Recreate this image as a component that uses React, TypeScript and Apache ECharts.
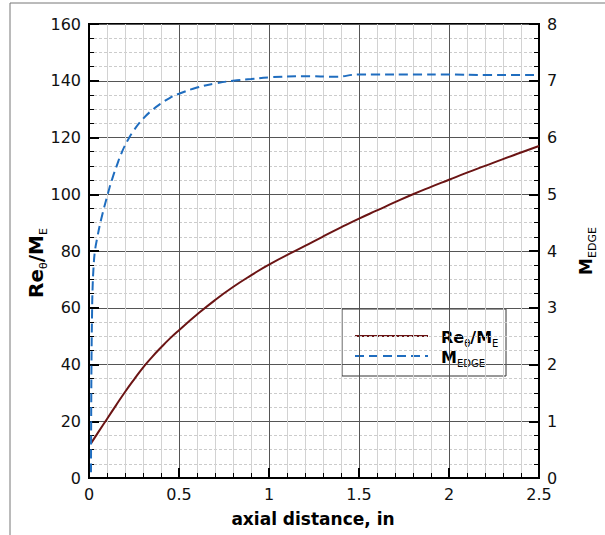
import React, { useEffect, useRef } from "react";
import * as echarts from "echarts";

const xTicks = { min: 0, max: 2.5, interval: 0.5 };
const leftTicks = { min: 0, max: 160, interval: 20 };
const rightTicks = { min: 0, max: 8, interval: 1 };

const reX = [0.011, 0.05, 0.1, 0.15, 0.2, 0.25, 0.3, 0.35, 0.4, 0.45, 0.5, 0.6, 0.7, 0.8, 0.9, 1.0, 1.2, 1.3, 1.4, 1.5, 1.6, 1.7, 1.8, 1.9, 2.0, 2.1, 2.2, 2.3, 2.4, 2.5];
const reY = [12.2, 16.0, 20.8, 25.6, 30.3, 34.7, 38.9, 42.6, 46.0, 49.2, 52.1, 57.6, 62.7, 67.3, 71.4, 75.2, 81.8, 85.1, 88.3, 91.4, 94.3, 97.2, 100.0, 102.6, 105.1, 107.6, 110.0, 112.4, 114.7, 117.0];

const mX = [0.011, 0.012, 0.014, 0.017, 0.02, 0.026, 0.033, 0.045, 0.067, 0.104, 0.13, 0.154, 0.18, 0.215, 0.25, 0.3, 0.35, 0.4, 0.45, 0.5, 0.6, 0.7, 0.8, 0.9, 1.0, 1.2, 1.37, 1.5, 1.6, 1.8, 2.0, 2.2, 2.5];
const mY = [0.1, 1.0, 2.1, 2.9, 3.35, 3.75, 4.0, 4.22, 4.55, 5.0, 5.28, 5.5, 5.72, 5.95, 6.13, 6.33, 6.48, 6.6, 6.7, 6.77, 6.88, 6.95, 7.0, 7.03, 7.06, 7.08, 7.07, 7.11, 7.11, 7.11, 7.11, 7.1, 7.1];

const RED = "#6b1414";
const BLUE = "#1f6dbf";
const FONT = "DejaVu Sans";

export default function App() {
  const ref = useRef<HTMLDivElement>(null);
  useEffect(() => {
    const chart = echarts.init(ref.current!, null, { renderer: "svg" });
    const labelStyle = { fontFamily: FONT, fontSize: 16, color: "#111" };
    const richTitle = (size: number, sub: number) => ({
      a: { fontFamily: FONT, fontWeight: "bold", fontSize: size, lineHeight: size + 6, verticalAlign: "middle", fill: "#000" },
      b: { fontFamily: FONT, fontWeight: "normal", fontSize: sub, lineHeight: sub, verticalAlign: "bottom", fill: "#000" },
    });
    chart.setOption({
      animation: false,
      grid: { left: 89, top: 24, width: 450, height: 454, show: true, borderColor: "#000", borderWidth: 2, backgroundColor: "transparent" },
      xAxis: {
        type: "value",
        min: xTicks.min, max: xTicks.max, interval: xTicks.interval,
        axisLine: { show: true, lineStyle: { color: "#000", width: 2 } },
        axisTick: { show: true, inside: true, length: 10, lineStyle: { color: "#000", width: 2 } },
        minorTick: { show: true, splitNumber: 5, length: 5, lineStyle: { color: "#000", width: 1 } },
        splitLine: { show: true, lineStyle: { color: "#555", width: 1 } },
        minorSplitLine: { show: true, lineStyle: { color: "#d2d2d2", width: 1 } },
        axisLabel: { ...labelStyle, margin: 8, formatter: (v: number) => String(v) },
      },
      yAxis: [
        {
          type: "value",
          min: leftTicks.min, max: leftTicks.max, interval: leftTicks.interval,
          axisLine: { show: true, lineStyle: { color: "#000", width: 2 } },
          axisTick: { show: true, inside: true, length: 10, lineStyle: { color: "#000", width: 2 } },
          minorTick: { show: true, splitNumber: 4, length: 5, lineStyle: { color: "#000", width: 1 } },
          splitLine: { show: true, lineStyle: { color: "#555", width: 1 } },
          minorSplitLine: { show: true, lineStyle: { color: "#cccccc", width: 1, type: [3, 2] } },
          axisLabel: { ...labelStyle, margin: 8 },
        },
        {
          type: "value",
          position: "right",
          min: rightTicks.min, max: rightTicks.max, interval: rightTicks.interval,
          axisLine: { show: true, lineStyle: { color: "#000", width: 2 } },
          axisTick: { show: true, inside: true, length: 10, lineStyle: { color: "#000", width: 2 } },
          minorTick: { show: true, splitNumber: 4, length: 5, lineStyle: { color: "#000", width: 1 } },
          splitLine: { show: false },
          minorSplitLine: { show: false },
          axisLabel: { ...labelStyle, margin: 8 },
        },
      ],
      series: [
        {
          name: "Re", type: "line", yAxisIndex: 0, showSymbol: false, smooth: 0.5,
          lineStyle: { color: RED, width: 2 },
          data: reX.map((x, i) => [x, reY[i]]),
        },
        {
          name: "M", type: "line", yAxisIndex: 1, showSymbol: false, smooth: 0.5,
          lineStyle: { color: BLUE, width: 2, type: [9, 5] },
          data: mX.map((x, i) => [x, mY[i]]),
        },
      ],
      graphic: [
        { type: "line", shape: { x1: 10, y1: 3, x2: 605, y2: 3 }, style: { stroke: "#777", lineWidth: 1 } },
        { type: "line", shape: { x1: 10, y1: 3, x2: 10, y2: 535 }, style: { stroke: "#777", lineWidth: 1 } },
        {
          type: "text", x: 313, y: 519,
          style: { text: "axial distance, in", font: `bold 17px "${FONT}"`, fill: "#000", align: "center", verticalAlign: "middle" },
        },
        {
          type: "text", x: 36, y: 263, rotation: Math.PI / 2,
          style: { text: "{a|Re}{b|θ}{a|/M}{b|E}", align: "center", verticalAlign: "middle", rich: richTitle(20, 11) },
        },
        {
          type: "text", x: 586, y: 251, rotation: Math.PI / 2,
          style: { text: "{a|M}{b|EDGE}", align: "center", verticalAlign: "middle", rich: richTitle(17, 11) },
        },
        {
          type: "group", z: 100,
          children: [
            { type: "rect", shape: { x: 342, y: 309, width: 164, height: 67 }, style: { fill: "#fff", stroke: "#333", lineWidth: 1 } },
            { type: "line", shape: { x1: 355, y1: 336, x2: 428, y2: 336 }, style: { stroke: RED, lineWidth: 2 } },
            { type: "line", shape: { x1: 355, y1: 356, x2: 428, y2: 356 }, style: { stroke: BLUE, lineWidth: 2, lineDash: [9, 5] } },
            {
              type: "text", x: 441, y: 337,
              style: { text: "{a|Re}{b|θ}{a|/M}{b|E}", align: "left", verticalAlign: "middle", rich: richTitle(16, 10) },
            },
            {
              type: "text", x: 441, y: 357,
              style: { text: "{a|M}{b|EDGE}", align: "left", verticalAlign: "middle", rich: richTitle(16, 10) },
            },
          ],
        },
      ],
    });
    return () => chart.dispose();
  }, []);
  return <div ref={ref} style={{ position: "fixed", left: 0, top: 0, width: 605, height: 535, background: "#fff" }} />;
}
